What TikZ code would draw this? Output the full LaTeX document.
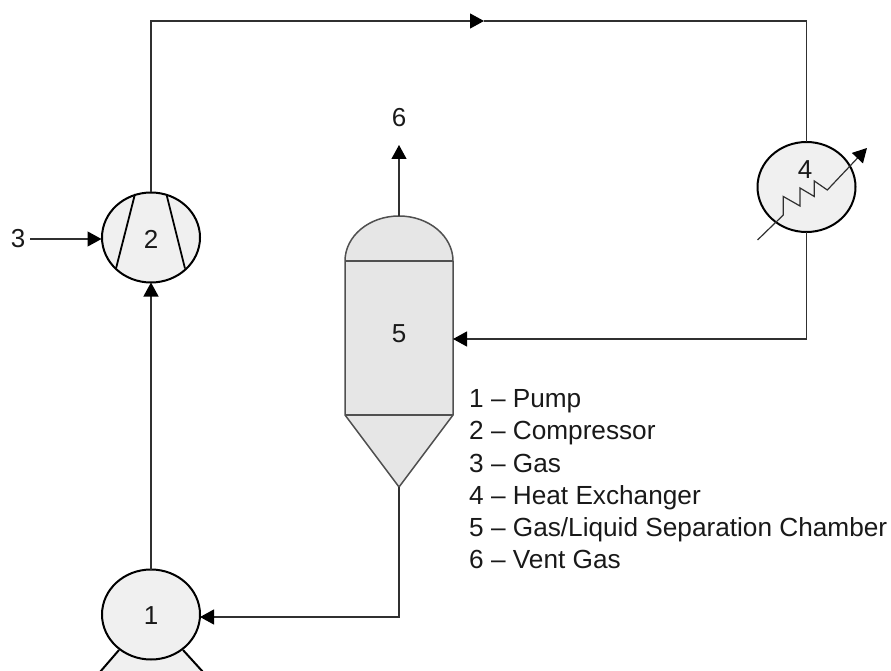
\documentclass[tikz,border=0pt]{standalone}
\usepackage{fontspec}
\setmainfont{Liberation Sans}
\usetikzlibrary{arrows.meta,shapes.geometric}
\definecolor{unitfill}{HTML}{F0F0F0}
\definecolor{vesselfill}{HTML}{E6E6E6}
\definecolor{vesselline}{HTML}{505050}
\definecolor{flowline}{HTML}{303030}
\tikzset{
  unit/.style={ellipse,draw=black,line width=2pt,fill=unitfill,minimum width=98pt,minimum height=90pt,inner sep=0pt,outer sep=0pt},
  flow/.style={line width=1.2pt,draw=flowline},
  tip/.style={-{Triangle[length=14pt,width=15pt,color=black]}},
  lab/.style={font=\fontsize{26}{30}\selectfont,inner sep=0pt,text=black!90},
  legend/.style={font=\fontsize{26.2}{30}\selectfont,inner sep=0pt,anchor=base west,text=black!90},
}
\begin{document}
\begin{tikzpicture}[x=1pt,y=-1pt]
\useasboundingbox (0,0) rectangle (891,671);
\clip (0,0) rectangle (891,671);
% pump base
\fill[unitfill] (119,650) -- (100,671) -- (203,671) -- (183,650) -- cycle;
\draw[line width=2pt] (119,650) -- (100,672);
\draw[line width=2pt] (183,650) -- (203,672);
% vessel
\coordinate (dometop) at (399,216);
\coordinate (vesselin) at (453,339);
\coordinate (conetip) at (399,487);
\filldraw[fill=vesselfill,draw=vesselline,line width=1.5pt]
  (345,261) arc[start angle=180,end angle=0,x radius=54pt,y radius=45pt] -- (453,415) -- (399,487) -- (345,415) -- cycle;
\draw[vesselline,line width=1.5pt] (345,261) -- (453,261);
\draw[vesselline,line width=1.5pt] (345,415) -- (453,415);
% units
\node[unit] (pump) at (151,614.5) {};
\node[unit] (comp) at (151,237.5) {};
\node[unit] (hx) at (806.5,187) {};
\draw[line width=1.8pt] (135,194) -- (116,268.5);
\draw[line width=1.8pt] (166.5,194.5) -- (185,268.5);
% labels
\node[lab] at (151,616) {1};
\node[lab] at (151,239) {2};
\node[lab] (n3) at (18,239) {3};
\node[lab] at (805,169.5) {4};
\node[lab] at (399,334) {5};
\node[lab] (n6) at (399,117.5) {6};
% heat exchanger coil
\coordinate (coilstart) at (757.5,240);
\coordinate (coilend) at (867,148);
\draw[flow,tip] (coilstart) -- (783.3,215) -- (783.3,196.5) -- (800,206) -- (800,188) -- (814.3,196.5) -- (814.3,181) -- (827.3,190) -- (coilend);
% connectors
\coordinate (c1) at (151,21);
\coordinate (c2) at (806.5,21);
\coordinate (topmid) at (484,21);
\coordinate (c3) at (806.5,339);
\coordinate (c4) at (399,617);
\coordinate (pumpin) at (200,617);
\coordinate (gasstart) at (30,239);
\coordinate (gasend) at (101.5,239);
\coordinate (ventend) at (399,145);
\draw[flow,tip] (comp.north) -- (c1) -- (topmid);
\draw[flow] (topmid) -- (c2) -- (hx.north);
\draw[flow,tip] (hx.south) -- (c3) -- (vesselin);
\draw[flow,tip] (conetip) -- (c4) -- (pumpin);
\draw[flow,tip] (pump.north) -- (comp.south);
\draw[flow,tip] (gasstart) -- (gasend);
\draw[flow,tip] (dometop) -- (ventend);
% legend
\node[legend] (k1) at (469,407) {1 – Pump};
\node[legend] (k2) at (469,439) {2 – Compressor};
\node[legend] (k3) at (469,472) {3 – Gas};
\node[legend] (k4) at (469,504) {4 – Heat Exchanger};
\node[legend] (k5) at (469,536) {5 – Gas/Liquid Separation Chamber};
\node[legend] (k6) at (469,568) {6 – Vent Gas};
\end{tikzpicture}
\end{document}
